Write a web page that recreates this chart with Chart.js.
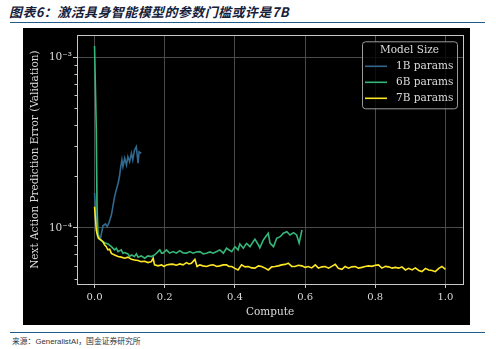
<!DOCTYPE html>
<html>
<head>
<meta charset="utf-8">
<script src="https://cdn.jsdelivr.net/npm/chart.js@4/dist/chart.umd.min.js"></script>
<style>
    body { margin: 0; width: 496px; height: 349px; background: #fff; position: relative; overflow: hidden; }
    #title { position: absolute; left: 9px; top: 2px; font: italic bold 13px "Noto Sans CJK SC", sans-serif; letter-spacing: 0.4px; color: #16213a; white-space: nowrap; }
    .rule { position: absolute; left: 10px; width: 475px; height: 1px; background: #1f5c8b; }
    #wrap { position: absolute; left: 23px; top: 28px; width: 447px; height: 297px; background: #000; }
    #src { position: absolute; left: 12px; top: 335px; font: 7.8px "Liberation Sans", "Noto Sans CJK SC", sans-serif; color: #333; white-space: nowrap; }
</style>
</head>
<body>
<div id="title">图表6：激活具身智能模型的参数门槛或许是7B</div>
<div class="rule" style="top:22px"></div>
<div id="wrap"><canvas id="chart" width="447" height="297"></canvas></div>
<div class="rule" style="top:332px"></div>
<div id="src">来源：GeneralistAI，国金证券研究所</div>
<script>
// series labels
const seriesNames = ['1B params', '6B params', '7B params'];

// 1B params
const b1x = [0.000, 0.004, 0.009, 0.017, 0.024, 0.031, 0.036, 0.041, 0.048, 0.052, 0.057, 0.062, 0.067, 0.071,
    0.074, 0.078, 0.081, 0.086, 0.091, 0.095, 0.100, 0.105, 0.109, 0.114, 0.119, 0.124, 0.127, 0.133];
const b1y = [16.0e-5, 12.0e-5, 9.3e-5, 8.7e-5, 10.3e-5, 10.55e-5, 10.2e-5, 10.7e-5, 11.9e-5, 13.3e-5, 15.2e-5, 16.7e-5, 18.2e-5, 20.0e-5,
    22.3e-5, 25.0e-5, 22.8e-5, 25.6e-5, 23.3e-5, 26.1e-5, 24.4e-5, 27.3e-5, 25.0e-5, 28.6e-5, 29.9e-5, 23.9e-5, 27.9e-5, 27.3e-5];

// 6B params
const b6x = [0.000, 0.005, 0.007, 0.010, 0.014, 0.020, 0.029, 0.038, 0.048, 0.057, 0.062, 0.067, 0.076, 0.081, 0.086,
    0.095, 0.100, 0.105, 0.114, 0.119, 0.124, 0.133, 0.143, 0.152, 0.162, 0.171, 0.181, 0.186, 0.191, 0.195,
    0.205, 0.214, 0.224, 0.233, 0.243, 0.252, 0.262, 0.271, 0.281, 0.290, 0.300, 0.310, 0.319, 0.329, 0.338,
    0.348, 0.357, 0.367, 0.376, 0.391, 0.400, 0.409, 0.414, 0.424, 0.433, 0.443, 0.452, 0.457, 0.467, 0.471,
    0.481, 0.495, 0.500, 0.510, 0.519, 0.529, 0.538, 0.548, 0.557, 0.567, 0.576, 0.583, 0.591];
const b6y = [116e-5, 37.4e-5, 13.6e-5, 8.98e-5, 8.6e-5, 8.4e-5, 8.2e-5, 8.06e-5, 7.77e-5, 7.44e-5, 7.61e-5, 7.27e-5, 7.44e-5, 7.12e-5, 7.18e-5,
    7.05e-5, 6.8e-5, 6.95e-5, 6.8e-5, 7.05e-5, 6.74e-5, 6.86e-5, 6.65e-5, 6.86e-5, 6.8e-5, 6.95e-5, 7.27e-5, 7.44e-5, 7.12e-5, 7.12e-5,
    7.44e-5, 7.12e-5, 7.27e-5, 7.12e-5, 7.36e-5, 7.15e-5, 7.12e-5, 7.28e-5, 7.12e-5, 7.24e-5, 7.27e-5, 7.05e-5, 7.12e-5, 7.24e-5, 7.12e-5,
    7.28e-5, 7.44e-5, 7.12e-5, 7.61e-5, 7.27e-5, 7.77e-5, 7.44e-5, 8.06e-5, 7.61e-5, 8.12e-5, 7.77e-5, 8.31e-5, 8.6e-5, 7.95e-5, 7.64e-5,
    8.51e-5, 9.31e-5, 8.15e-5, 7.77e-5, 8.7e-5, 8.89e-5, 9.31e-5, 9.51e-5, 9.1e-5, 9.39e-5, 9.1e-5, 8.15e-5, 9.73e-5];

// 7B params
const b7x = [0.000, 0.005, 0.008, 0.011, 0.019, 0.024, 0.029, 0.033, 0.038, 0.043, 0.048, 0.057, 0.067, 0.076, 0.086,
    0.095, 0.105, 0.114, 0.124, 0.133, 0.143, 0.152, 0.162, 0.167, 0.171, 0.181, 0.191, 0.198, 0.205, 0.214,
    0.223, 0.233, 0.243, 0.252, 0.262, 0.269, 0.276, 0.286, 0.292, 0.300, 0.309, 0.319, 0.329, 0.338, 0.348,
    0.357, 0.367, 0.376, 0.383, 0.391, 0.400, 0.409, 0.419, 0.429, 0.438, 0.448, 0.457, 0.467, 0.476, 0.486,
    0.495, 0.505, 0.514, 0.524, 0.533, 0.543, 0.552, 0.562, 0.571, 0.581, 0.591, 0.600, 0.609, 0.619, 0.629,
    0.638, 0.648, 0.657, 0.667, 0.676, 0.686, 0.695, 0.705, 0.714, 0.724, 0.733, 0.743, 0.752, 0.762, 0.771,
    0.781, 0.791, 0.800, 0.809, 0.819, 0.829, 0.838, 0.848, 0.857, 0.867, 0.876, 0.886, 0.895, 0.905, 0.914,
    0.924, 0.933, 0.943, 0.952, 0.962, 0.971, 0.981, 0.990, 1.000];
const b7y = [13.3e-5, 9.7e-5, 9.1e-5, 8.7e-5, 8.5e-5, 8.3e-5, 7.95e-5, 7.8e-5, 7.45e-5, 7.5e-5, 7.1e-5, 6.95e-5, 6.8e-5, 6.75e-5, 6.65e-5,
    6.75e-5, 6.55e-5, 6.5e-5, 6.45e-5, 6.35e-5, 6.38e-5, 6.27e-5, 6.35e-5, 6.65e-5, 6.08e-5, 6.0e-5, 6.08e-5, 5.95e-5, 6.08e-5, 6.12e-5,
    6.14e-5, 6.05e-5, 6.16e-5, 6.08e-5, 6.27e-5, 6.16e-5, 6.22e-5, 6.55e-5, 5.95e-5, 6.08e-5, 6.0e-5, 5.95e-5, 6.05e-5, 6.08e-5, 5.95e-5,
    6.0e-5, 6.08e-5, 6.08e-5, 5.95e-5, 5.95e-5, 5.8e-5, 5.68e-5, 6.08e-5, 5.92e-5, 5.95e-5, 5.84e-5, 5.82e-5, 6.0e-5, 5.95e-5, 5.82e-5,
    5.68e-5, 5.92e-5, 5.95e-5, 6.0e-5, 6.08e-5, 6.12e-5, 6.22e-5, 5.96e-5, 5.95e-5, 6.05e-5, 6.0e-5, 5.88e-5, 5.95e-5, 5.84e-5, 6.08e-5,
    5.82e-5, 5.92e-5, 5.95e-5, 5.82e-5, 5.96e-5, 6.12e-5, 5.8e-5, 5.73e-5, 5.95e-5, 5.82e-5, 5.92e-5, 5.95e-5, 5.82e-5, 5.88e-5, 5.95e-5,
    6.0e-5, 5.96e-5, 6.05e-5, 6.08e-5, 5.82e-5, 5.96e-5, 5.92e-5, 5.82e-5, 5.88e-5, 5.82e-5, 5.92e-5, 5.68e-5, 5.8e-5, 5.68e-5, 5.84e-5,
    5.64e-5, 5.56e-5, 5.8e-5, 5.68e-5, 5.64e-5, 5.55e-5, 5.8e-5, 5.95e-5, 5.73e-5];

// ticks
const xTicks = [0, 0.2, 0.4, 0.6, 0.8, 1.0];
const yMajorTicks = [1e-4, 1e-3];
const yTickLabels = ['10⁻⁴', '10⁻³'];
const yMinorTicks = [5e-5, 6e-5, 7e-5, 8e-5, 9e-5, 2e-4, 3e-4, 4e-4, 5e-4, 6e-4, 7e-4, 8e-4, 9e-4];

const colors = ['#31688e', '#35b779', '#fde725'];
const gridColor = '#4a4a4a';
const frameColor = '#c8c8c8';
const textColor = '#dcdcdc';
const serif = '"DejaVu Serif", serif';

function toPoints(xs, ys) {
    return xs.map((x, i) => ({ x: x, y: ys[i] }));
}

// axes box (matplotlib spines) + short minor ticks on the log axis
const framePlugin = {
    id: 'frame',
    afterDraw(chart) {
        const { ctx, chartArea: a } = chart;
        const y = chart.scales.y;
        ctx.save();
        ctx.strokeStyle = frameColor;
        ctx.lineWidth = 1;
        ctx.strokeRect(Math.round(a.left) + 0.5, Math.round(a.top) + 0.5, Math.round(a.right - a.left), Math.round(a.bottom - a.top));
        ctx.beginPath();
        yMinorTicks.forEach(v => {
            const py = Math.round(y.getPixelForValue(v)) + 0.5;
            ctx.moveTo(a.left - 2.5, py);
            ctx.lineTo(a.left, py);
        });
        ctx.stroke();
        ctx.restore();
    }
};

// boxed legend in the top right corner
const legendPlugin = {
    id: 'boxLegend',
    afterDraw(chart) {
        const ctx = chart.ctx;
        const a = chart.chartArea;
        const x0 = a.right - 101, y0 = a.top + 6, w = 95, h = 67;
        ctx.save();
        ctx.fillStyle = 'rgba(0,0,0,0.8)';
        ctx.strokeStyle = '#9a9a9a';
        ctx.lineWidth = 1;
        ctx.beginPath();
        ctx.roundRect(x0 + 0.5, y0 + 0.5, w, h, 3);
        ctx.fill();
        ctx.stroke();
        ctx.fillStyle = textColor;
        ctx.font = '10.5px ' + serif;
        ctx.textBaseline = 'middle';
        ctx.textAlign = 'center';
        ctx.fillText('Model Size', x0 + w / 2, y0 + 9);
        ctx.textAlign = 'left';
        chart.data.datasets.forEach((ds, i) => {
            const ly = y0 + 25 + i * 16;
            ctx.strokeStyle = ds.borderColor;
            ctx.lineWidth = 1.6;
            ctx.beginPath();
            ctx.moveTo(x0 + 3, ly);
            ctx.lineTo(x0 + 25, ly);
            ctx.stroke();
            ctx.fillStyle = textColor;
            ctx.fillText(ds.label, x0 + 34, ly);
        });
        ctx.restore();
    }
};

const seriesX = [b1x, b6x, b7x];
const seriesY = [b1y, b6y, b7y];

new Chart(document.getElementById('chart'), {
    type: 'line',
    data: {
        datasets: seriesNames.map((name, i) => ({
            label: name,
            data: toPoints(seriesX[i], seriesY[i]),
            borderColor: colors[i],
            borderWidth: 1.6,
            pointRadius: 0,
            tension: 0,
            fill: false,
            order: 2 - i
        }))
    },
    options: {
        responsive: false,
        animation: false,
        devicePixelRatio: 1,
        layout: { padding: { left: 0, top: 7, right: 7, bottom: 0 } },
        plugins: { legend: { display: false }, tooltip: { enabled: false } },
        scales: {
            x: {
                type: 'linear',
                min: -0.05,
                max: 1.05,
                afterBuildTicks: s => { s.ticks = xTicks.map(v => ({ value: v })); },
                afterFit: s => { s.height = 41; },
                border: { display: false },
                grid: { color: gridColor, lineWidth: 1, drawTicks: true, tickLength: 4, tickColor: frameColor },
                ticks: {
                    color: textColor,
                    font: { family: serif, size: 10 },
                    padding: 3,
                    maxRotation: 0,
                    autoSkip: false,
                    callback: v => v.toFixed(1)
                },
                title: {
                    display: true,
                    text: 'Compute',
                    color: textColor,
                    font: { family: serif, size: 10.5 },
                    padding: { top: 0, bottom: 6 }
                }
            },
            y: {
                type: 'logarithmic',
                min: 4.70e-5,
                max: 1.34e-3,
                afterBuildTicks: s => {
                    s.ticks = yMinorTicks.concat(yMajorTicks).sort((a, b) => a - b).map(v => ({ value: v }));
                },
                afterFit: s => { s.width = 54; },
                border: { display: false },
                grid: {
                    color: c => yMajorTicks.includes(c.tick.value) ? gridColor : 'transparent',
                    tickColor: c => yMajorTicks.includes(c.tick.value) ? frameColor : 'transparent',
                    lineWidth: 1,
                    drawTicks: true,
                    tickLength: 4
                },
                ticks: {
                    color: textColor,
                    font: { family: serif, size: 10.5 },
                    padding: 1,
                    autoSkip: false,
                    callback: v => {
                        const k = yMajorTicks.indexOf(v);
                        return k >= 0 ? yTickLabels[k] : '';
                    }
                },
                title: {
                    display: true,
                    text: 'Next Action Prediction Error (Validation)',
                    color: textColor,
                    font: { family: serif, size: 10.5 },
                    padding: { top: 6, bottom: 0 }
                }
            }
        }
    },
    plugins: [framePlugin, legendPlugin]
});
</script>
</body>
</html>
